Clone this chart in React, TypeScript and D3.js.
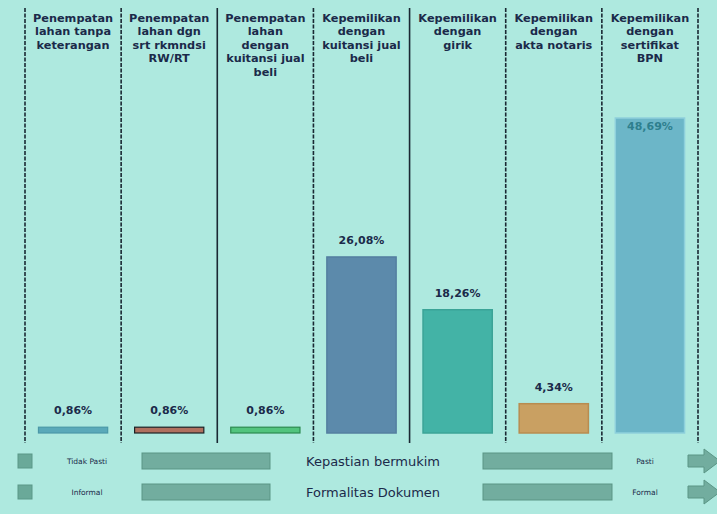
import React from "react";
import * as d3 from "d3";

const categories = [
  ["Penempatan", "lahan tanpa", "keterangan"],
  ["Penempatan", "lahan dgn", "srt rkmndsi", "RW/RT"],
  ["Penempatan", "lahan", "dengan", "kuitansi jual", "beli"],
  ["Kepemilikan", "dengan", "kuitansi jual", "beli"],
  ["Kepemilikan", "dengan", "girik"],
  ["Kepemilikan", "dengan", "akta notaris"],
  ["Kepemilikan", "dengan", "sertifikat", "BPN"],
];
const values = [0.86, 0.86, 0.86, 26.08, 18.26, 4.34, 48.69];
const valueLabels = ["0,86%", "0,86%", "0,86%", "26,08%", "18,26%", "4,34%", "48,69%"];
const barColors = ["#5aa9b9", "#b0705f", "#52c47e", "#5c8aab", "#43b3a6", "#c9a062", "#6cb6c8"];
const barStrokes = ["#4b98a8", "#1c2226", "#2c8a50", "#547fa0", "#3ba497", "#b88c50", "#8ed0dc"];
const dashedDividers = [true, true, false, true, false, true, true, true];

const legendRows = [
  { left: "Tidak Pasti", title: "Kepastian bermukim", right: "Pasti" },
  { left: "Informal", title: "Formalitas Dokumen", right: "Formal" },
];

const W = 717;
const H = 514;
const FONT = "DejaVu Sans, sans-serif";
const INK = "#1b2a4a";

const App = () => {
  const idx = categories.map((_, i) => String(i));
  const x = d3.scaleBand().domain(idx).range([25, 698]).padding(0);
  // bars sit inside each column
  const inner = x.bandwidth();
  const barW = inner * 0.72;
  // the tallest bar is cut at the top of the plotting area
  const y = d3.scaleLinear().domain([0, 46.67]).range([433, 118]).clamp(true);

  const dividers = d3.range(categories.length + 1).map((i) => 25 + i * inner);
  const legendY = d3.scalePoint().domain(["0", "1"]).range([461, 492]);

  return (
    <svg
      width={W}
      height={H}
      style={{ position: "fixed", left: 0, top: 0, background: "#aee9df" }}
    >
      <rect width={W} height={H} fill="#aee9df" />
      {dividers.map((dx, i) => (
        <line
          key={"d" + i}
          x1={dx}
          x2={dx}
          y1={8}
          y2={443}
          stroke="#1a2833"
          strokeWidth={1.6}
          strokeDasharray={dashedDividers[i] ? "4,1.5" : undefined}
        />
      ))}
      {categories.map((lines, i) => {
        const cx = (x(String(i)) as number) + inner / 2;
        return (
          <text
            key={"c" + i}
            x={cx}
            y={22}
            textAnchor="middle"
            fontFamily={FONT}
            fontWeight="bold"
            fontSize={11.3}
            fill={INK}
          >
            {lines.map((l, j) => (
              <tspan key={j} x={cx} dy={j === 0 ? 0 : 13.4}>
                {l}
              </tspan>
            ))}
          </text>
        );
      })}
      {values.map((v, i) => {
        const bx = (x(String(i)) as number) + (inner - barW) / 2;
        const top = y(v);
        const inside = y(v) <= y.range()[1];
        return (
          <g key={"b" + i}>
            <rect
              x={bx}
              y={top}
              width={barW}
              height={y(0) - top}
              fill={barColors[i]}
              stroke={barStrokes[i]}
              strokeWidth={i < 3 ? 1.2 : 1.5}
            />
            <text
              x={bx + barW / 2}
              y={inside ? top + 12 : top - 13}
              textAnchor="middle"
              fontFamily={FONT}
              fontWeight="bold"
              fontSize={11}
              fill={inside ? "#2e7f8e" : INK}
            >
              {valueLabels[i]}
            </text>
          </g>
        );
      })}
      {legendRows.map((r, i) => {
        const cy = legendY(String(i)) as number;
        return (
          <g key={"l" + i}>
            <rect x={18} y={cy - 7} width={14} height={14} fill="#6aa999" stroke="#5a9888" />
            <text x={87} y={cy + 3} textAnchor="middle" fontFamily={FONT} fontSize={7.5} fill={INK}>
              {r.left}
            </text>
            <rect x={142} y={cy - 8} width={128} height={16} fill="#72ad9f" stroke="#5a9585" />
            <text x={373} y={cy + 4.5} textAnchor="middle" fontFamily={FONT} fontSize={13} fill={INK}>
              {r.title}
            </text>
            <rect x={483} y={cy - 8} width={129} height={16} fill="#72ad9f" stroke="#5a9585" />
            <text x={645} y={cy + 3} textAnchor="middle" fontFamily={FONT} fontSize={7.5} fill={INK}>
              {r.right}
            </text>
            <path
              d={`M688,${cy - 6}H704V${cy - 12}L720,${cy}L704,${cy + 12}V${cy + 6}H688Z`}
              fill="#72ad9f"
              stroke="#5a9585"
            />
          </g>
        );
      })}
    </svg>
  );
};

export default App;
